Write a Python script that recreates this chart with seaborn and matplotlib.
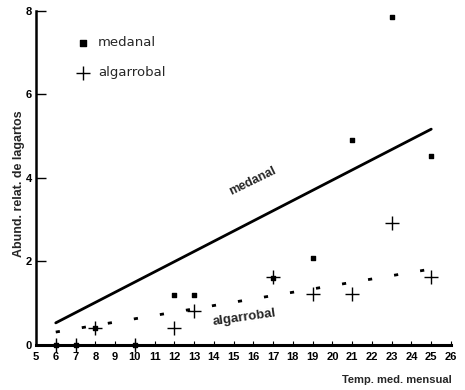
import matplotlib
matplotlib.use("Agg")
import matplotlib.pyplot as plt
import seaborn as sns
import pandas as pd
from matplotlib import font_manager

# ---- data ----
medanal_x = [6, 7, 8, 10, 12, 13, 17, 19, 21, 23, 25]
medanal_y = [0, 0, 0.4, 0, 1.2, 1.2, 1.6, 2.08, 4.92, 7.85, 4.52]
algarrobal_x = [6, 7, 8, 10, 12, 13, 17, 19, 21, 23, 25]
algarrobal_y = [0, 0, 0.4, 0, 0.4, 0.82, 1.62, 1.22, 1.22, 2.93, 1.62]
fit_x = [6, 25]
medanal_fit = [0.53, 5.17]
algarrobal_fit = [0.31, 1.82]
x_ticks = list(range(5, 27))
y_ticks = [0, 2, 4, 6, 8]

sns.set_theme(style="white")
names = {f.name for f in font_manager.fontManager.ttflist}
narrow = "Liberation Sans Narrow" if "Liberation Sans Narrow" in names else "Liberation Sans"
plt.rcParams["font.family"] = [narrow, "DejaVu Sans"]

fig = plt.figure(figsize=(4.65, 3.9), dpi=100)
ax = fig.add_axes([0.0774, 0.1154, 0.8925, 0.8564])

med = pd.DataFrame({"x": medanal_x, "y": medanal_y})
alg = pd.DataFrame({"x": algarrobal_x, "y": algarrobal_y})
fm = pd.DataFrame({"x": fit_x, "y": medanal_fit})
fa = pd.DataFrame({"x": fit_x, "y": algarrobal_fit})

sns.lineplot(data=fm, x="x", y="y", ax=ax, color="black", linewidth=2.0, legend=False)
sns.lineplot(data=fa, x="x", y="y", ax=ax, color="black", linewidth=2.0,
             dashes=False, legend=False)
ax.lines[-1].set_dashes([1.5, 8])

sc1 = ax.scatter(med["x"], med["y"], marker="s", s=10, color="black", clip_on=False,
                 zorder=5, label="medanal")
sc2 = ax.scatter(alg["x"], alg["y"], marker="+", s=95, color="black", linewidths=1.0,
                 clip_on=False, zorder=5, label="algarrobal")

ax.set_xlim(5, 26)
ax.set_ylim(0, 8)
ax.set_xticks(x_ticks)
ax.set_yticks(y_ticks)
ax.set_xticklabels([str(t) for t in x_ticks], fontsize=8, fontweight="bold")
ax.set_yticklabels([str(t) for t in y_ticks], fontsize=8, fontweight="bold")
ax.tick_params(axis="x", direction="in", length=3, width=0.8, pad=5, colors="black")
ax.tick_params(axis="y", direction="in", length=7, width=1.0, pad=3, colors="black")
ax.tick_params(bottom=True, left=True)

for s in ["top", "right"]:
    ax.spines[s].set_visible(False)
ax.spines["left"].set_linewidth(1.8)
ax.spines["bottom"].set_linewidth(2.2)
ax.spines["left"].set_color("black")
ax.spines["bottom"].set_color("black")

ax.set_xlabel("")
ax.set_ylabel("")
fig.text(0.04, 0.53, "Abund. relat. de lagartos", rotation=90, fontsize=9,
         fontweight="bold", ha="center", va="center", family=["Liberation Sans"])
fig.text(0.972, 0.025, "Temp. med. mensual", fontsize=8, fontweight="bold",
         ha="right", va="center", family=["Liberation Sans"])

ax.text(15.95, 3.92, "medanal", rotation=26, fontsize=9, fontweight="bold",
        ha="center", va="center", family=["Liberation Sans"])
ax.text(15.55, 0.65, "algarrobal", rotation=8, fontsize=9.5, fontweight="bold",
        ha="center", va="center", family=["Liberation Sans"])

leg = ax.legend(handles=[sc1, sc2], loc="upper left", bbox_to_anchor=(0.06, 0.96),
                frameon=False, handletextpad=0.3, labelspacing=1.3, handlelength=1.6,
                prop={"family": ["DejaVu Sans"], "size": 9.5})
leg.legend_handles[0].set_sizes([22])

fig.savefig("out.png", dpi=100, facecolor="white")
